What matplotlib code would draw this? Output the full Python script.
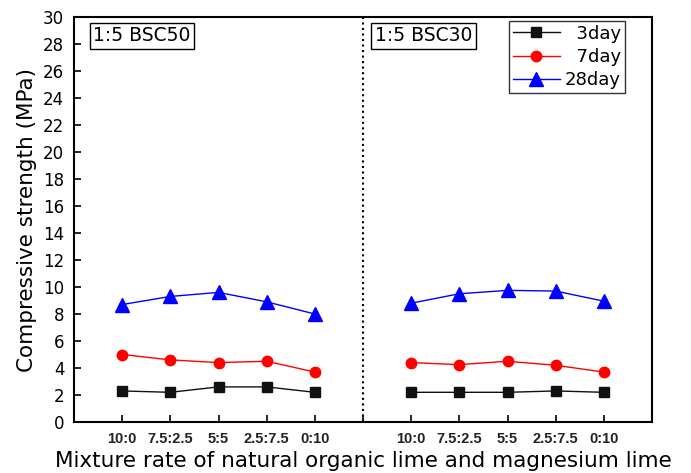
import numpy as np
import matplotlib.pyplot as plt

plt.rcParams['font.family'] = ['DejaVu Sans']

# mixing ratios (natural organic lime : magnesium lime)
ratios = ['10:0', '7.5:2.5', '5:5', '2.5:7.5', '0:10']

# 1:5 BSC50
bsc50_3day = [2.3, 2.2, 2.6, 2.6, 2.2]
bsc50_7day = [5.0, 4.6, 4.4, 4.5, 3.7]
bsc50_28day = [8.7, 9.3, 9.6, 8.9, 8.0]

# 1:5 BSC30
bsc30_3day = [2.2, 2.2, 2.2, 2.3, 2.2]
bsc30_7day = [4.4, 4.25, 4.5, 4.2, 3.7]
bsc30_28day = [8.8, 9.5, 9.75, 9.7, 8.95]

x_left = np.arange(5)
x_right = np.arange(6, 11)

fig = plt.figure(figsize=(6.91, 4.73), dpi=100)
ax = fig.add_axes([74/691, 1-422/473, (652-74)/691, (422-17)/473])

series = [
    ('  3day', bsc50_3day, bsc30_3day, '#111111', 's', 6.8),
    ('  7day', bsc50_7day, bsc30_7day, 'red', 'o', 7.5),
    ('28day', bsc50_28day, bsc30_28day, 'blue', '^', 9.5),
]
for name, left, right, c, m, ms in series:
    ax.plot(x_left, left, color=c, marker=m, markersize=ms, linewidth=1, label=name)
    ax.plot(x_right, right, color=c, marker=m, markersize=ms, linewidth=1)

ax.axvline(5, color='black', linestyle=':', linewidth=1.5)

ax.set_xlim(-1, 11)
ax.set_ylim(0, 30)
ax.set_yticks(np.arange(0, 31, 2))
ax.set_xticks(list(x_left) + [5] + list(x_right))
ax.set_xticklabels(ratios + [''] + ratios, fontsize=10.5, family='Liberation Sans',
                   fontweight='bold', color='#222222')
ax.tick_params(axis='y', direction='in', labelsize=12, length=5, width=1.2, pad=7)
ax.tick_params(axis='x', direction='in', length=5, width=1.2, pad=7)
for s in ax.spines.values():
    s.set_linewidth(1.5)

ax.set_ylabel('Compressive strength (MPa)', fontsize=15.5, labelpad=4)
ax.set_xlabel('Mixture rate of natural organic lime and magnesium lime', fontsize=15.5, labelpad=4)

box = dict(boxstyle='square,pad=0.2', facecolor='white', edgecolor='black', linewidth=1)
ax.text(-0.6, 28.6, '1:5 BSC50', fontsize=13.5, va='center', ha='left', bbox=box)
ax.text(5.25, 28.6, '1:5 BSC30', fontsize=13.5, va='center', ha='left', bbox=box)

leg = ax.legend(loc='upper right', bbox_to_anchor=(0.953, 0.99), fontsize=13, frameon=True,
                fancybox=False, edgecolor='black', handlelength=2.6, handletextpad=0.3,
                borderpad=0.2, labelspacing=0.3, borderaxespad=0)
leg.get_frame().set_linewidth(1)

fig.savefig('out.png', dpi=100)
